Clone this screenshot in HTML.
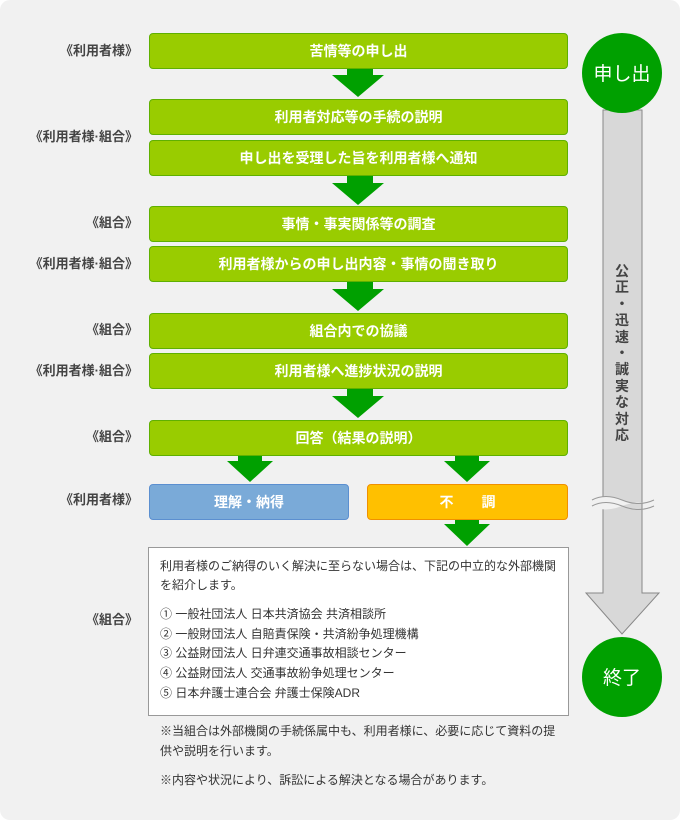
<!DOCTYPE html>
<html><head><meta charset="utf-8"><style>
*{margin:0;padding:0;box-sizing:border-box}
body{width:680px;height:820px;background:#fff;font-family:"Liberation Sans","Noto Sans CJK JP",sans-serif;position:relative;overflow:hidden}
.card{position:absolute;left:0;top:0;width:680px;height:820px;background:#f1f1f1;border-radius:10px}
.g{position:absolute;left:149px;width:419px;height:36px;background:#99cc00;border:1px solid #5fb000;border-radius:4px;color:#fff;font-size:14px;font-weight:bold;text-align:center;line-height:34px}
.lb{position:absolute;right:542px;font-size:13px;font-weight:bold;color:#444;white-space:nowrap;line-height:16px}
svg{position:absolute;left:0;top:0}
.t{position:absolute;font-size:12px;color:#333;white-space:nowrap;line-height:16px}
</style></head><body>
<div class="card"></div>
<svg width="680" height="820">
<g fill="#00a000">
<polygon points="347,68 373,68 373,75 384,75 358,97 332,75 347,75"/>
<polygon points="347,176 373,176 373,183 384,183 358,205 332,183 347,183"/>
<polygon points="347,282 373,282 373,289 384,289 358,311 332,289 347,289"/>
<polygon points="347,389 373,389 373,396 384,396 358,418 332,396 347,396"/>
<polygon points="238,456 262,456 262,461 273,461 250,482 227,461 238,461"/>
<polygon points="455,456 479,456 479,461 490,461 467,482 444,461 455,461"/>
<polygon points="455,519 479,519 479,524 490,524 467,546 444,524 455,524"/>
</g>
<polygon points="603,110 642,110 642,593 659,593 622,634 586,593 603,593" fill="#d8d8d8" stroke="#888" stroke-width="1"/>
<path d="M592,500 Q605,493 622,500 T654,500 L654,506 Q640,499 622,506 T592,506 Z" fill="#f1f1f1"/>
<path d="M592,500 Q605,493 622,500 T654,500 M592,506 Q605,499 622,506 T654,506" fill="none" stroke="#999" stroke-width="1"/>
<circle cx="622" cy="73" r="40" fill="#00a000"/>
<circle cx="622" cy="677" r="40" fill="#00a000"/>
<text x="622" y="80" font-size="19" fill="#fff" text-anchor="middle" font-family="Liberation Sans,Noto Sans CJK JP,sans-serif">申し出</text>
<text x="622" y="684" font-size="19" fill="#fff" text-anchor="middle" font-family="Liberation Sans,Noto Sans CJK JP,sans-serif">終了</text>
</svg>
<div style="position:absolute;left:614px;top:263px;width:16px;font-size:14px;font-weight:bold;color:#444;line-height:16.4px;text-align:center">公<br>正<br>・<br>迅<br>速<br>・<br>誠<br>実<br>な<br>対<br>応</div>

<div class="g" style="top:33px">苦情等の申し出</div>
<div class="g" style="top:99px">利用者対応等の手続の説明</div>
<div class="g" style="top:140px">申し出を受理した旨を利用者様へ通知</div>
<div class="g" style="top:206px">事情・事実関係等の調査</div>
<div class="g" style="top:246px">利用者様からの申し出内容・事情の聞き取り</div>
<div class="g" style="top:313px">組合内での協議</div>
<div class="g" style="top:353px">利用者様へ進捗状況の説明</div>
<div class="g" style="top:420px">回答（結果の説明）</div>
<div class="g" style="top:484px;left:149px;width:200px;background:#7aaad8;border-color:#5b8fd0">理解・納得</div>
<div class="g" style="top:484px;left:367px;width:201px;background:#ffc000;border-color:#f09000">不　　調</div>

<div class="lb" style="top:43px">《利用者様》</div>
<div class="lb" style="top:129px">《利用者様·組合》</div>
<div class="lb" style="top:215px">《組合》</div>
<div class="lb" style="top:256px">《利用者様·組合》</div>
<div class="lb" style="top:322px">《組合》</div>
<div class="lb" style="top:363px">《利用者様·組合》</div>
<div class="lb" style="top:429px">《組合》</div>
<div class="lb" style="top:492px">《利用者様》</div>
<div class="lb" style="top:612px">《組合》</div>

<div style="position:absolute;left:148px;top:547px;width:421px;height:169px;background:#fff;border:1px solid #999"></div>
<div class="t" style="left:160px;top:558px">利用者様のご納得のいく解決に至らない場合は、下記の中立的な外部機関</div>
<div class="t" style="left:160px;top:577px">を紹介します。</div>
<div class="t" style="left:160px;top:606px">① 一般社団法人 日本共済協会 共済相談所</div>
<div class="t" style="left:160px;top:626px">② 一般財団法人 自賠責保険・共済紛争処理機構</div>
<div class="t" style="left:160px;top:645px">③ 公益財団法人 日弁連交通事故相談センター</div>
<div class="t" style="left:160px;top:665px">④ 公益財団法人 交通事故紛争処理センター</div>
<div class="t" style="left:160px;top:685px">⑤ 日本弁護士連合会 弁護士保険ADR</div>
<div class="t" style="left:160px;top:723px">※当組合は外部機関の手続係属中も、利用者様に、必要に応じて資料の提</div>
<div class="t" style="left:160px;top:743px">供や説明を行います。</div>
<div class="t" style="left:160px;top:772px">※内容や状況により、訴訟による解決となる場合があります。</div>
</body></html>
